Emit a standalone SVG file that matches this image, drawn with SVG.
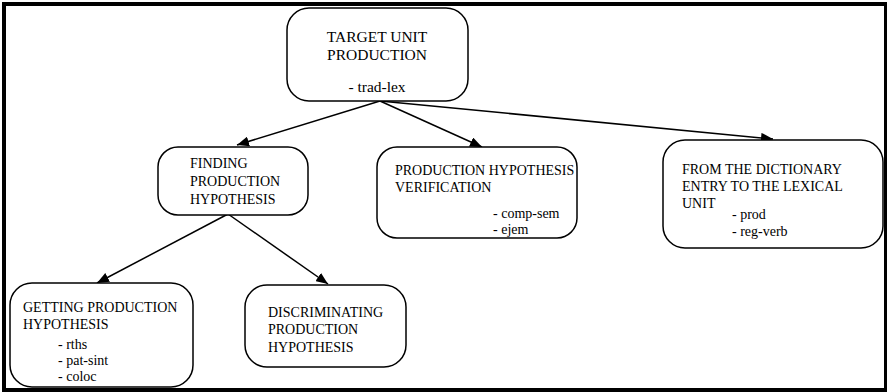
<svg xmlns="http://www.w3.org/2000/svg" width="887" height="392" viewBox="0 0 887 392">
<style>
.box{fill:#fff;stroke:#000;stroke-width:1.5}
.t{font-family:"Liberation Serif","Times New Roman",serif;font-size:14px;fill:#000}
.big{font-size:15.5px}
.c{stroke:#000;stroke-width:1.5;fill:none;marker-end:url(#ah)}
</style>
<defs>
<marker id="ah" markerUnits="userSpaceOnUse" markerWidth="14" markerHeight="10" refX="12" refY="5" orient="auto">
<path d="M0,0 L12,5 L0,10 Z" fill="#000"/>
</marker>
</defs>
<rect x="4" y="4" width="882" height="386" fill="#fff" stroke="#000" stroke-width="4"/>
<g id="connectors">
<line class="c" x1="380" y1="101" x2="237" y2="145"/>
<line class="c" x1="380" y1="101" x2="482" y2="147"/>
<line class="c" x1="380" y1="101" x2="773" y2="139"/>
<line class="c" x1="228" y1="214" x2="97" y2="283"/>
<line class="c" x1="228" y1="214" x2="328" y2="284"/>
</g>
<g id="target">
<rect class="box" x="287" y="8" width="181" height="93" rx="22"/>
<text class="t big" x="377" y="42" text-anchor="middle">TARGET UNIT</text>
<text class="t big" x="377" y="60" text-anchor="middle">PRODUCTION</text>
<text class="t big" x="377" y="92" text-anchor="middle">- trad-lex</text>
</g>
<g id="finding">
<rect class="box" x="158" y="147" width="150" height="68" rx="20"/>
<text class="t" x="190" y="168">FINDING</text>
<text class="t" x="190" y="186">PRODUCTION</text>
<text class="t" x="190" y="204">HYPOTHESIS</text>
</g>
<g id="verification">
<rect class="box" x="377" y="147" width="200" height="91" rx="20"/>
<text class="t" x="395" y="175">PRODUCTION HYPOTHESIS</text>
<text class="t" x="395" y="192">VERIFICATION</text>
<text class="t" x="493" y="218">- comp-sem</text>
<text class="t" x="493" y="234">- ejem</text>
</g>
<g id="dictionary">
<rect class="box" x="663" y="140" width="220" height="108" rx="22"/>
<text class="t" x="682" y="174">FROM THE DICTIONARY</text>
<text class="t" x="682" y="191">ENTRY TO THE LEXICAL</text>
<text class="t" x="682" y="208">UNIT</text>
<text class="t" x="732" y="219">- prod</text>
<text class="t" x="732" y="236">- reg-verb</text>
</g>
<g id="getting">
<rect class="box" x="10" y="283" width="183" height="104" rx="22"/>
<text class="t" x="23" y="312">GETTING PRODUCTION</text>
<text class="t" x="23" y="329">HYPOTHESIS</text>
<text class="t" x="58" y="349">- rths</text>
<text class="t" x="58" y="365">- pat-sint</text>
<text class="t" x="58" y="381">- coloc</text>
</g>
<g id="discriminating">
<rect class="box" x="245" y="285" width="161" height="82" rx="22"/>
<text class="t" x="268" y="317">DISCRIMINATING</text>
<text class="t" x="268" y="334">PRODUCTION</text>
<text class="t" x="268" y="352">HYPOTHESIS</text>
</g>
</svg>
